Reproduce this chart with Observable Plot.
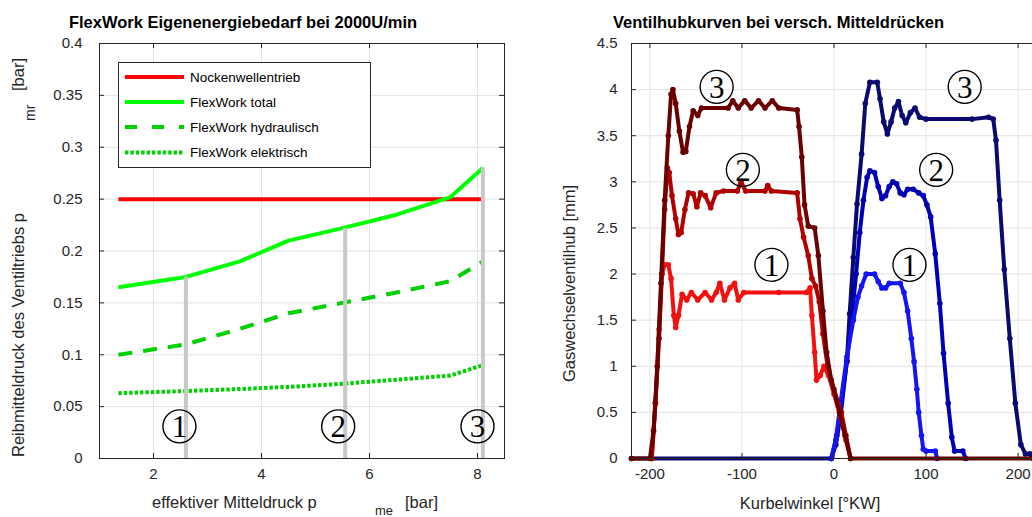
<!DOCTYPE html>
<html><head><meta charset="utf-8">
<script src="https://cdn.jsdelivr.net/npm/d3@7"></script>
<script src="https://cdn.jsdelivr.net/npm/@observablehq/plot@0.6"></script>
<style>
html,body{margin:0;padding:0;background:#fff;overflow:hidden;}
#wrap{position:relative;width:1032px;height:517px;overflow:hidden;font-family:"Liberation Sans",Arial,sans-serif;}
#wrap > svg{position:absolute;top:0;}
</style></head><body><div id="wrap"></div>
<script>
// ---------------- left panel data ----------------
const leftTitle = "FlexWork Eigenenergiebedarf bei 2000U/min";
const pme = [1.35, 2.6, 3.6, 4.5, 5.5, 6.5, 7.5, 8.1];
const nockenwellentrieb = [0.25, 0.25, 0.25, 0.25, 0.25, 0.25, 0.25, 0.25];
const flexTotal = [0.165, 0.175, 0.19, 0.21, 0.222, 0.235, 0.252, 0.28];
const flexHydraulisch = [0.1, 0.11, 0.125, 0.14, 0.15, 0.16, 0.171, 0.19];
const flexElektrisch = [0.063, 0.065, 0.067, 0.069, 0.072, 0.076, 0.08, 0.09];
const legendNames = ["Nockenwellentrieb", "FlexWork total", "FlexWork hydraulisch", "FlexWork elektrisch"];
const markerX = [2.6, 5.55, 8.1];
const markerTop = [0.175, 0.222, 0.28];
const leftLabelX = [2.48, 5.42, 8.0];
const leftLabelY = [0.031, 0.031, 0.031];
const digits = ["1", "2", "3"];
const leftXTicks = [2, 4, 6, 8];
const leftXTickLabels = ["2", "4", "6", "8"];
const leftYTicks = [0, 0.05, 0.1, 0.15, 0.2, 0.25, 0.3, 0.35, 0.4];
const leftYTickLabels = ["0", "0.05", "0.1", "0.15", "0.2", "0.25", "0.3", "0.35", "0.4"];

// ---------------- right panel data ----------------
const rightTitle = "Ventilhubkurven bei versch. Mitteldrücken";
const einlass1 = [[-198,0],[-194,0.6],[-190,1.4],[-187,2.0],[-184,2.1],[-180,2.1],[-177,1.95],[-174,1.55],[-172,1.42],[-169,1.55],[-165,1.78],[-160,1.72],[-155,1.8],[-148,1.72],[-140,1.8],[-133,1.72],[-128,1.8],[-124,1.9],[-119,1.72],[-113,1.85],[-108,1.9],[-104,1.72],[-98,1.8],[-60,1.8],[-30,1.8],[-26,1.85],[-24,1.55],[-21,1.15],[-19,0.85],[-15,0.9],[-11,1.0],[-6,0.9],[0,0.7],[7,0.45],[13,0.2],[18,0]];
const einlass2 = [[-198,0],[-194,0.6],[-190,1.3],[-187,2.0],[-184,2.7],[-181,3.15],[-179,3.1],[-176,2.85],[-172,2.6],[-169,2.43],[-166,2.45],[-162,2.7],[-158,2.88],[-153,2.87],[-149,2.73],[-145,2.88],[-140,2.85],[-134,2.72],[-128,2.88],[-120,2.9],[-105,2.9],[-101,3.0],[-96,2.9],[-75,2.9],[-72,2.96],[-68,2.9],[-40,2.88],[-37,2.6],[-33,2.4],[-28,2.2],[-24,1.95],[-20,1.87],[-16,1.7],[-12,1.35],[-7,1.0],[0,0.75],[8,0.5],[13,0.25],[18,0]];
const einlass3 = [[-220,0],[-200,0],[-196,0.3],[-192,1.0],[-188,1.9],[-184,2.8],[-180,3.5],[-177,3.95],[-175,4.0],[-172,3.85],[-168,3.55],[-164,3.32],[-161,3.33],[-157,3.6],[-153,3.77],[-148,3.72],[-144,3.8],[-115,3.8],[-110,3.88],[-104,3.8],[-97,3.88],[-90,3.8],[-82,3.88],[-75,3.8],[-67,3.88],[-60,3.8],[-40,3.78],[-38,3.6],[-35,3.27],[-32,2.75],[-28,2.52],[-21,2.5],[-17,2.2],[-12,1.6],[-8,1.15],[-3,0.85],[6,0.5],[12,0.25],[18,0],[220,0]];
const auslass1 = [[-3,0],[2,0.2],[7,0.6],[14,1.1],[21,1.5],[26,1.75],[30,1.87],[35,2.0],[44,2.0],[48,1.92],[52,1.85],[56,1.85],[60,1.9],[72,1.9],[76,1.8],[80,1.6],[84,1.3],[87,1.05],[90,0.75],[92,0.5],[95,0.25],[97,0.1],[100,0.08],[110,0.08],[112,0]];
const auslass2 = [[-3,0],[3,0.25],[8,0.6],[14,1.05],[19,1.5],[24,2.0],[28,2.45],[32,2.8],[36,3.05],[39,3.12],[44,3.1],[48,2.95],[52,2.82],[56,2.85],[60,2.95],[64,3.0],[68,2.98],[72,2.88],[76,2.86],[80,2.92],[86,2.92],[92,2.88],[97,2.85],[101,2.75],[105,2.62],[110,2.22],[115,1.68],[119,1.14],[124,0.6],[128,0.23],[131,0.08],[140,0.08],[143,0]];
const auslass3 = [[-220,0],[-3,0],[2,0.15],[7,0.45],[14,1.06],[17,1.57],[21,2.18],[25,2.76],[30,3.3],[34,3.85],[39,4.08],[47,4.08],[50,3.9],[54,3.65],[58,3.52],[62,3.65],[66,3.8],[70,3.87],[74,3.72],[78,3.64],[83,3.75],[88,3.8],[93,3.7],[100,3.68],[150,3.68],[168,3.7],[173,3.68],[176,3.45],[180,2.8],[185,2.05],[191,1.3],[197,0.6],[203,0.15],[208,0.05],[213,0.05],[216,0],[220,0]];
const rightLabelX = [-68, -99, -127.5, 82, 111, 142];
const rightLabelY = [2.1, 3.13, 4.03, 2.1, 3.13, 4.03];
const rightDigits = ["1", "2", "3", "1", "2", "3"];
const rightXTicks = [-200, -100, 0, 100, 200];
const rightXTickLabels = ["-200", "-100", "0", "100", "200"];
const rightYTicks = [0, 0.5, 1, 1.5, 2, 2.5, 3, 3.5, 4, 4.5];
const rightYTickLabels = ["0", "0.5", "1", "1.5", "2", "2.5", "3", "3.5", "4", "4.5"];

// ---------------- styles ----------------
const ink = "#262626";
const gridColor = "#e3e3e3";
const tickLen = 5;
const wrap = document.getElementById("wrap");
const baseStyle = {fontFamily: "Liberation Sans, Arial, sans-serif", fontSize: "15px", color: ink, background: "transparent", overflow: "visible"};

// ---------------- left plot ----------------
const L = {w: 520, h: 517, ml: 99, mr: 16, mt: 43, mb: 59};
const LW = L.w - L.ml - L.mr, LH = L.h - L.mt - L.mb;
const seriesDefs = [
  {name: legendNames[0], values: nockenwellentrieb, stroke: "#ff0000", dash: null},
  {name: legendNames[1], values: flexTotal, stroke: "#00ff00", dash: null},
  {name: legendNames[2], values: flexHydraulisch, stroke: "#00d000", dash: "14,11"},
  {name: legendNames[3], values: flexElektrisch, stroke: "#00d000", dash: "3.4,2"}
];
const xMapL = new Map(leftXTicks.map((t, i) => [t, leftXTickLabels[i]]));
const yMapL = new Map(leftYTicks.map((t, i) => [t, leftYTickLabels[i]]));
const markers = markerX.map((x, i) => ({x, top: markerTop[i], bottom: 0}));
const leftLabels = leftLabelX.map((x, i) => ({x, y: leftLabelY[i], t: digits[i]}));

const leftPlot = Plot.plot({
  width: L.w, height: L.h,
  marginLeft: L.ml, marginRight: L.mr, marginTop: L.mt, marginBottom: L.mb,
  x: {domain: [1, 8.5]},
  y: {domain: [0, 0.4]},
  style: baseStyle,
  marks: [
    Plot.ruleX(leftXTicks, {x: d => d, stroke: gridColor}),
    Plot.ruleY(leftYTicks, {y: d => d, stroke: gridColor}),
    ...seriesDefs.map(s => Plot.line(pme.map((x, i) => ({x, y: s.values[i]})), {
      x: "x", y: "y", stroke: s.stroke, strokeWidth: 4, strokeDasharray: s.dash, strokeLinecap: "butt", strokeLinejoin: "round"
    })),
    Plot.ruleX(markers, {x: "x", y1: "bottom", y2: "top", stroke: "#c8c8c8", strokeWidth: 4}),
    Plot.tickX(leftXTicks, {x: d => d, stroke: ink, insetTop: LH - tickLen}),
    Plot.tickX(leftXTicks, {x: d => d, stroke: ink, insetBottom: LH - tickLen}),
    Plot.tickY(leftYTicks, {y: d => d, stroke: ink, insetRight: LW - tickLen}),
    Plot.tickY(leftYTicks, {y: d => d, stroke: ink, insetLeft: LW - tickLen}),
    Plot.frame({stroke: ink}),
    Plot.dot(leftLabels, {x: "x", y: "y", r: 16.5, stroke: "#000", strokeWidth: 1.4, fill: "none"}),
    Plot.text(leftLabels, {x: "x", y: "y", text: "t", fontSize: 31, fontFamily: "Liberation Serif, DejaVu Serif, serif", fill: "#000", dy: 1}),
    Plot.axisX(leftXTicks, {tickSize: 0, tickPadding: 10, tickFormat: d => xMapL.get(d), label: null}),
    Plot.axisY(leftYTicks, {tickSize: 0, tickPadding: 17, tickFormat: d => yMapL.get(d), label: null})
  ]
});
leftPlot.style.left = "0px";
wrap.appendChild(leftPlot);

// ---------------- right plot ----------------
const R = {w: 516, h: 517, ml: 111, mr: 0, mt: 43, mb: 59};
const RW = R.w - R.ml - R.mr, RH = R.h - R.mt - R.mb;
const curves = [
  {data: auslass3, color: "#0a0a70"},
  {data: auslass2, color: "#0000b4"},
  {data: auslass1, color: "#1414f5"},
  {data: einlass1, color: "#f51010"},
  {data: einlass2, color: "#b00000"},
  {data: einlass3, color: "#6a0000"}
];
const xMapR = new Map(rightXTicks.map((t, i) => [t, rightXTickLabels[i]]));
const yMapR = new Map(rightYTicks.map((t, i) => [t, rightYTickLabels[i]]));
const rightLabels = rightLabelX.map((x, i) => ({x, y: rightLabelY[i], t: rightDigits[i]}));

const rightPlot = Plot.plot({
  width: R.w, height: R.h,
  marginLeft: R.ml, marginRight: R.mr, marginTop: R.mt, marginBottom: R.mb,
  x: {domain: [-220, 220]},
  y: {domain: [0, 4.5]},
  style: baseStyle,
  marks: [
    Plot.ruleX(rightXTicks, {x: d => d, stroke: gridColor}),
    Plot.ruleY(rightYTicks, {y: d => d, stroke: gridColor}),
    ...curves.flatMap(c => [
      Plot.line(c.data, {x: d => d[0], y: d => d[1], stroke: c.color, strokeWidth: 4, strokeLinejoin: "round", strokeLinecap: "round"}),
      Plot.dot(c.data, {x: d => d[0], y: d => d[1], r: 2.8, fill: c.color})
    ]),
    Plot.tickX(rightXTicks, {x: d => d, stroke: ink, insetTop: RH - tickLen}),
    Plot.tickX(rightXTicks, {x: d => d, stroke: ink, insetBottom: RH - tickLen}),
    Plot.tickY(rightYTicks, {y: d => d, stroke: ink, insetRight: RW - tickLen}),
    Plot.frame({stroke: ink}),
    Plot.dot(rightLabels, {x: "x", y: "y", r: 16.5, stroke: "#000", strokeWidth: 1.4, fill: "none"}),
    Plot.text(rightLabels, {x: "x", y: "y", text: "t", fontSize: 31, fontFamily: "Liberation Serif, DejaVu Serif, serif", fill: "#000", dy: 1}),
    Plot.axisX(rightXTicks, {tickSize: 0, tickPadding: 10, tickFormat: d => xMapR.get(d), label: null}),
    Plot.axisY(rightYTicks, {tickSize: 0, tickPadding: 14, tickFormat: d => yMapR.get(d), label: null})
  ]
});
rightPlot.style.left = "520px";
wrap.appendChild(rightPlot);

// ---------------- overlay texts & legend ----------------
const ov = d3.select(wrap).append("svg")
  .attr("width", 1032).attr("height", 517)
  .style("position", "absolute").style("left", "0px").style("top", "0px")
  .style("font-family", "Liberation Sans, Arial, sans-serif");

ov.append("text").attr("x", 243).attr("y", 28).attr("text-anchor", "middle")
  .attr("font-weight", "bold").attr("font-size", 16.5).attr("fill", "#000").text(leftTitle);
ov.append("text").attr("x", 778.5).attr("y", 28).attr("text-anchor", "middle")
  .attr("font-weight", "bold").attr("font-size", 16.5).attr("fill", "#000").text(rightTitle);

// left axis labels
ov.append("text").attr("transform", "translate(24,457) rotate(-90)").attr("font-size", 16.5).attr("fill", ink)
  .text("Reibmitteldruck des Ventiltriebs p");
ov.append("text").attr("transform", "translate(35,121) rotate(-90)").attr("font-size", 14).attr("fill", ink).text("mr");
ov.append("text").attr("transform", "translate(24,91) rotate(-90)").attr("font-size", 16.5).attr("fill", ink).text("[bar]");
ov.append("text").attr("x", 152).attr("y", 508).attr("font-size", 16.5).attr("fill", ink).text("effektiver Mitteldruck p");
ov.append("text").attr("x", 375).attr("y", 515).attr("font-size", 13).attr("fill", ink).text("me");
ov.append("text").attr("x", 405).attr("y", 508).attr("font-size", 16.5).attr("fill", ink).text("[bar]");

// right axis labels
ov.append("text").attr("transform", "translate(575,382) rotate(-90)").attr("font-size", 16.5).attr("fill", ink)
  .text("Gaswechselventilhub [mm]");
ov.append("text").attr("x", 810).attr("y", 509).attr("text-anchor", "middle").attr("font-size", 16.5).attr("fill", ink)
  .text("Kurbelwinkel [°KW]");

// legend
const lg = ov.append("g");
lg.append("rect").attr("x", 118.5).attr("y", 62.5).attr("width", 252).attr("height", 105)
  .attr("fill", "#fff").attr("stroke", ink).attr("stroke-width", 1);
const legendY = [77, 102, 127, 152.5];
seriesDefs.forEach((s, i) => {
  lg.append("line").attr("x1", 125).attr("x2", 184).attr("y1", legendY[i]).attr("y2", legendY[i])
    .attr("stroke", s.stroke).attr("stroke-width", 4).attr("stroke-dasharray", s.dash === "14,11" ? "12,15" : s.dash);
  lg.append("text").attr("x", 190).attr("y", legendY[i] + 4.5).attr("font-size", 13.5).attr("fill", "#000").text(s.name);
});
</script></body></html>
